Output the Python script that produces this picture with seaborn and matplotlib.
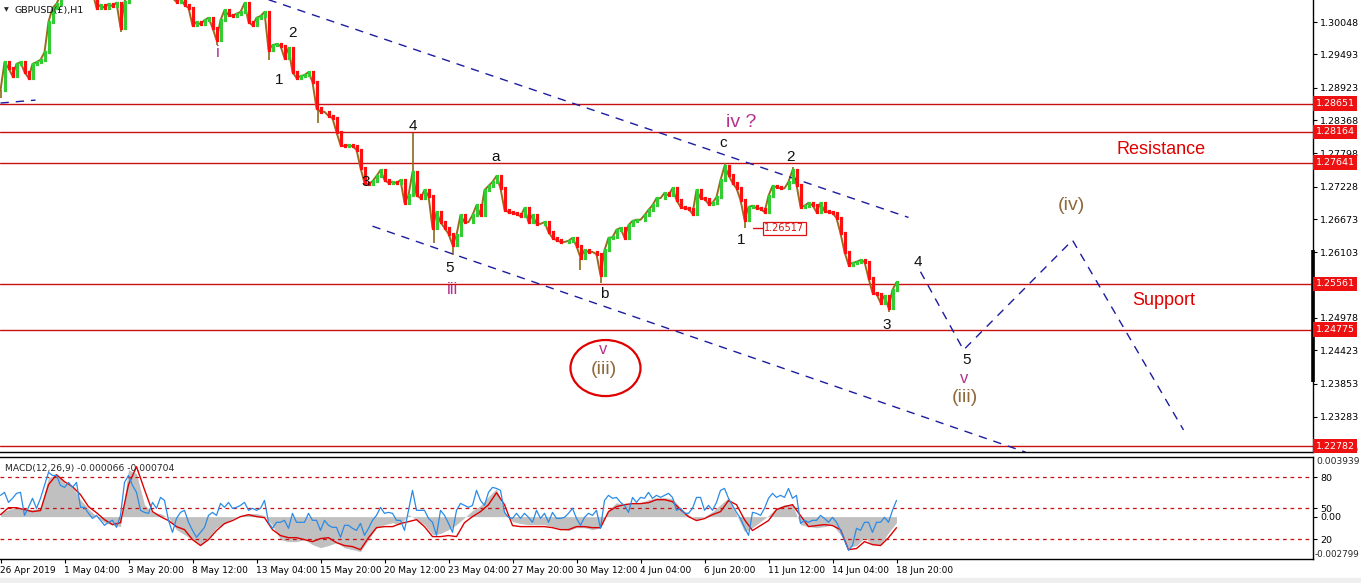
import numpy as np
import matplotlib
matplotlib.use("Agg")
import matplotlib.pyplot as plt
import matplotlib.transforms as mtransforms
from matplotlib.patches import Ellipse, Rectangle
import seaborn as sns

sns.set_theme(style="white")
plt.rcParams["font.family"] = ["DejaVu Sans"]

# ---------------- data ----------------
BAR_STEP = 4  # hourly bars between samples of the close series
close = [
    1.2888, 1.2936, 1.2926, 1.2912, 1.2933, 1.2936, 1.2919, 1.2909, 1.2933, 1.2936,
    1.2940, 1.2953, 1.3005, 1.3029, 1.3036, 1.3051, 1.3060, 1.3068, 1.3077, 1.3068,
    1.3077, 1.3085, 1.3068, 1.3056, 1.3029, 1.3034, 1.3029, 1.3036, 1.3032, 1.3038,
    1.2995, 1.3039, 1.3060, 1.3077, 1.3085, 1.3094, 1.3085, 1.3094, 1.3085, 1.3077,
    1.3085, 1.3068, 1.3056, 1.3046, 1.3039, 1.3046, 1.3034, 1.3029, 1.2999, 1.3005,
    1.3001, 1.3008, 1.3012, 1.2995, 1.2974, 1.3008, 1.3025, 1.3017, 1.3015, 1.3019,
    1.3022, 1.3037, 1.3005, 1.2999, 1.3012, 1.3015, 1.3022, 1.2957, 1.2965, 1.2967,
    1.2964, 1.2943, 1.2960, 1.2919, 1.2909, 1.2912, 1.2914, 1.2919, 1.2902, 1.2857,
    1.2851, 1.2851, 1.2844, 1.2840, 1.2816, 1.2794, 1.2792, 1.2794, 1.2792, 1.2786,
    1.2755, 1.2729, 1.2727, 1.2732, 1.2741, 1.2751, 1.2734, 1.2729, 1.2731, 1.2729,
    1.2734, 1.2695, 1.2708, 1.2748, 1.2708, 1.2703, 1.2717, 1.2707, 1.2652, 1.2679,
    1.2662, 1.2652, 1.2642, 1.2623, 1.2640, 1.2674, 1.2662, 1.2662, 1.2674, 1.2691,
    1.2674, 1.2717, 1.2724, 1.2731, 1.2741, 1.2720, 1.2683, 1.2679, 1.2678, 1.2676,
    1.2672, 1.2686, 1.2662, 1.2674, 1.2659, 1.2659, 1.2662, 1.2645, 1.2635, 1.2631,
    1.2628, 1.2628, 1.2630, 1.2635, 1.2621, 1.2601, 1.2614, 1.2611, 1.2611, 1.2607,
    1.2571, 1.2614, 1.2635, 1.2636, 1.2649, 1.2652, 1.2635, 1.2657, 1.2664, 1.2666,
    1.2666, 1.2674, 1.2683, 1.2691, 1.2703, 1.2703, 1.2712, 1.2708, 1.2720, 1.2700,
    1.2688, 1.2686, 1.2685, 1.2676, 1.2717, 1.2703, 1.2702, 1.2693, 1.2695, 1.2705,
    1.2734, 1.2758, 1.2743, 1.2729, 1.2720, 1.2700, 1.2666, 1.2688, 1.2690, 1.2686,
    1.2685, 1.2679, 1.2707, 1.2724, 1.2722, 1.2720, 1.2720, 1.2731, 1.2751, 1.2726,
    1.2688, 1.2690, 1.2695, 1.2691, 1.2679, 1.2695, 1.2681, 1.2679, 1.2678, 1.2669,
    1.2643, 1.2611, 1.2589, 1.2592, 1.2594, 1.2597, 1.2594, 1.2566, 1.2541, 1.2539,
    1.2524, 1.2536, 1.2515, 1.2546, 1.2559,
]
# notable wick extremes (bar index, price)
wick_bar = [0, 120, 216, 268, 317, 412, 433, 452, 579, 600, 724, 744, 792, 888]
wick_price = [1.2875, 1.2988, 1.2965, 1.2940, 1.2832, 1.2815, 1.2626, 1.2606,
              1.2580, 1.2558, 1.2763, 1.2652, 1.2756, 1.2508]

MACD_STEP = 8
macd_hist = [
    0.00026, 0.00046, 0.00059, 0.00053, 0.00046, 0.00059, 0.00257, 0.00277, 0.00224, 0.00198,
    0.00112, 0.00053, 0.0, -0.0004, -0.00053, -0.00066, 0.0031, 0.00284, 0.00079, 0.00026,
    0.0002, -0.00007, -0.00086, -0.00119, -0.00152, -0.00185, -0.00139, -0.00073, -0.00046, -0.00013,
    0.00007, 0.0002, 0.0002, 0.00007, -0.00059, -0.00152, -0.00165, -0.00165, -0.00152, -0.00185,
    -0.00205, -0.00191, -0.00172, -0.00205, -0.00218, -0.00231, -0.00152, -0.00073, -0.00053, -0.0004,
    -0.00053, 0.00013, -0.0002, -0.00053, -0.00119, -0.00112, -0.00086, -0.00053, -0.00007, 0.0004,
    0.00073, 0.00132, 0.00185, 0.00033, -0.00033, -0.00046, -0.00053, -0.00053, -0.00053, -0.00066,
    -0.00079, -0.00092, -0.00073, -0.00073, -0.00086, -0.00073, 0.00046, 0.00092, 0.00079, 0.00092,
    0.00092, 0.00112, 0.00125, 0.00125, 0.00119, 0.00059, 0.00013, -0.0002, 0.0, 0.00033,
    0.00079, 0.00125, 0.00013, -0.00099, -0.00073, -0.00033, 0.00007, 0.00059, 0.00079, 0.00079,
    -0.00053, -0.00066, -0.00073, -0.00066, -0.00053, -0.00119, -0.00205, -0.00191, -0.00139, -0.00185,
    -0.00185, -0.00106, -0.0004,
]
macd_signal = [
    0.00013, 0.00059, 0.00059, 0.00046, 0.00033, 0.0004, 0.00211, 0.00277, 0.00231, 0.00198,
    0.00145, 0.00066, 0.00026, -0.0002, -0.00053, -0.0004, 0.00211, 0.0033, 0.00178, 0.00033,
    0.0, -0.00026, -0.00066, -0.00086, -0.00152, -0.00191, -0.00152, -0.00092, -0.00046, -0.00026,
    0.0, 0.00013, 0.0, -0.00007, -0.00086, -0.00125, -0.00139, -0.00139, -0.00152, -0.00165,
    -0.00145, -0.00139, -0.00172, -0.00191, -0.00198, -0.00218, -0.00139, -0.00073, -0.00066, -0.00066,
    -0.00046, -0.00033, -0.0002, -0.00066, -0.00132, -0.00132, -0.00125, -0.00132, -0.0004, 0.0,
    0.00033, 0.00079, 0.00158, 0.00079, -0.00059, -0.00066, -0.00066, -0.00066, -0.00066, -0.00073,
    -0.00086, -0.00086, -0.00066, -0.00066, -0.00073, -0.00073, 0.00033, 0.00066, 0.00079, 0.00086,
    0.00086, 0.00092, 0.00112, 0.00112, 0.00099, 0.00046, 0.0, -0.00026, -0.00013, 0.00013,
    0.00033, 0.00106, 0.00079, -0.0002, -0.00092, -0.00059, -0.00026, 0.00046, 0.00066, 0.00079,
    0.00007, -0.00066, -0.00059, -0.00053, -0.00059, -0.00086, -0.00218, -0.00211, -0.00165, -0.00185,
    -0.00191, -0.00139, -0.00073,
]
OSC_STEP = 4
osc = [
    62.6, 65.5, 55.8, 59.7, 64.5, 65.5, 43.2, 51.0, 59.7, 50.0,
    59.7, 72.2, 84.8, 81.9, 81.9, 72.2, 70.3, 75.1, 70.3, 75.1,
    51.0, 51.0, 45.2, 40.3, 43.2, 38.4, 33.6, 36.5, 38.4, 31.6,
    43.2, 75.1, 81.9, 72.2, 65.5, 48.1, 46.1, 45.2, 55.8, 50.0,
    60.6, 57.7, 38.4, 26.8, 40.3, 46.1, 48.1, 36.5, 28.7, 22.0,
    26.8, 31.6, 43.2, 46.1, 43.2, 54.8, 51.0, 55.8, 50.0, 51.0,
    52.9, 55.8, 48.1, 50.0, 48.1, 50.0, 57.7, 36.5, 30.7, 36.5,
    36.5, 38.4, 30.7, 45.2, 36.5, 36.5, 36.5, 45.2, 38.4, 38.4,
    28.7, 38.4, 33.6, 31.6, 31.6, 22.0, 33.6, 33.6, 30.7, 28.7,
    35.5, 23.9, 30.7, 38.4, 43.2, 51.0, 45.2, 46.1, 45.2, 38.4,
    38.4, 28.7, 48.1, 67.4, 48.1, 48.1, 48.1, 40.3, 36.5, 23.9,
    48.1, 43.2, 35.5, 26.8, 48.1, 54.8, 52.9, 51.0, 52.9, 67.4,
    57.7, 52.9, 65.5, 70.3, 69.3, 67.4, 46.1, 41.3, 40.3, 45.2,
    40.3, 45.2, 41.3, 36.5, 48.1, 40.3, 45.2, 36.5, 46.1, 40.3,
    40.3, 41.3, 45.2, 50.0, 40.3, 33.6, 41.3, 45.2, 43.2, 48.1,
    30.7, 57.7, 62.6, 59.7, 60.6, 55.8, 52.9, 46.1, 60.6, 55.8,
    60.6, 59.7, 65.5, 59.7, 62.6, 60.6, 62.6, 64.5, 60.6, 48.1,
    50.0, 45.2, 45.2, 50.0, 60.6, 60.6, 48.1, 52.9, 48.1, 55.8,
    67.4, 69.3, 59.7, 52.9, 46.1, 40.3, 31.6, 23.9, 46.1, 45.2,
    43.2, 50.0, 59.7, 64.5, 60.6, 62.6, 60.6, 69.3, 59.7, 62.6,
    35.5, 38.4, 36.5, 38.4, 38.4, 43.2, 40.3, 36.5, 41.3, 36.5,
    28.7, 19.0, 9.4, 14.2, 30.7, 28.7, 36.5, 36.5, 26.8, 36.5,
    36.5, 41.3, 36.5, 48.1, 57.7,
]
osc_levels = [80, 50, 20]

levels = [1.28651, 1.28164, 1.27641, 1.25561, 1.24775, 1.22782]
price_ticks = [1.30048, 1.29493, 1.28923, 1.28368, 1.27798, 1.27228, 1.26673,
               1.26103, 1.24978, 1.24423, 1.23853, 1.23283, 1.22720]
date_bars = [0, 64, 128, 192, 256, 320, 384, 448, 512, 576, 640, 704, 768, 832, 896]
date_labels = ["26 Apr 2019", "1 May 04:00", "3 May 20:00", "8 May 12:00", "13 May 04:00",
               "15 May 20:00", "20 May 12:00", "23 May 04:00", "27 May 20:00", "30 May 12:00",
               "4 Jun 04:00", "6 Jun 20:00", "11 Jun 12:00", "14 Jun 04:00", "18 Jun 20:00"]

upper_tl_bars, upper_tl_price = [268, 908], [1.3043, 1.2670]
lower_tl_bars, lower_tl_price = [372, 1025], [1.2655, 1.2268]
left_tl_bars, left_tl_price = [0, 35], [1.2866, 1.2871]
proj_bars = [920, 963, 1072, 1183]
proj_price = [1.2577, 1.2443, 1.2631, 1.2306]

MAG, BRN, BLK, RED = "#b5338f", "#8f6a3c", "#111111", "#e00000"
wave_labels = [
    ("i", 217, 1.2953, MAG, 12), ("2", 292, 1.2986, BLK, 11), ("1", 279, 1.2905, BLK, 11),
    ("4", 412, 1.2827, BLK, 11), ("3", 365, 1.2731, BLK, 11), ("5", 449, 1.2584, BLK, 11),
    ("iii", 452, 1.2547, MAG, 12), ("a", 495, 1.2774, BLK, 11), ("b", 604, 1.2539, BLK, 11),
    ("c", 723, 1.2797, BLK, 11), ("iv ?", 741, 1.2832, MAG, 14), ("2", 790, 1.2774, BLK, 11),
    ("1", 741, 1.2631, BLK, 11), ("3", 886, 1.2486, BLK, 11), ("4", 917, 1.2594, BLK, 11),
    ("5", 966, 1.2426, BLK, 11), ("v", 964, 1.2394, MAG, 12), ("(iii)", 964, 1.2361, BRN, 14),
    ("(iv)", 1071, 1.2691, BRN, 14), ("v", 603, 1.2444, MAG, 12), ("(iii)", 603, 1.2409, BRN, 14),
    ("Resistance", 1161, 1.2787, RED, 13), ("Support", 1163, 1.2527, RED, 13),
]
marked_bar, marked_price = 744, 1.26517

# ---------------- figure ----------------
W, H = 1361, 583
fig = plt.figure(figsize=(W / 100, H / 100), dpi=100)
fig.patch.set_facecolor("white")
right = 1313 / W
ax_p = fig.add_axes([0, 1 - 452 / H, right, 452 / H])
ax_m = fig.add_axes([0, 1 - 559 / H, right, 102 / H])
XMAX = 1313
for ax in (ax_p, ax_m):
    ax.set_facecolor("white")
    ax.set_xlim(-0.5, XMAX - 0.5)
    ax.spines["left"].set_visible(False)
    for s in ("right", "bottom", "top"):
        ax.spines[s].set_color("black")
        ax.spines[s].set_linewidth(1.0)
ax_p.spines["top"].set_visible(False)

ax_p.set_ylim(1.22682, 1.30425)

# price bars
c = np.array(close)
xb = np.arange(len(c)) * BAR_STEP
prev = np.r_[c[0], c[:-1]]
up = c >= prev
sns.lineplot(x=xb, y=c, ax=ax_p, color="#9a6b1f", lw=1.4, zorder=2)
ax_p.vlines(xb[up], prev[up], c[up], colors="#33cc33", lw=2.3, zorder=3,
            capstyle="projecting")
ax_p.vlines(xb[~up], c[~up], prev[~up], colors="#ff1010", lw=2.3, zorder=3,
            capstyle="projecting")
idx = np.clip(np.round(np.array(wick_bar) / BAR_STEP).astype(int), 0, len(c) - 1)
ax_p.vlines(wick_bar, c[idx], wick_price, colors="#8a6a1a", lw=1.2, zorder=2)

# horizontal levels
blend_p = mtransforms.blended_transform_factory(ax_p.transAxes, ax_p.transData)
for lv in levels:
    ax_p.axhline(lv, color="#c81010", lw=1.0, zorder=1)
    ax_p.text(1.002, lv, f"{lv:.5f}", transform=blend_p, color="white", fontsize=6.8,
              va="center", ha="left", clip_on=False, zorder=10,
              bbox=dict(boxstyle="square,pad=0.3", fc="#ee1111", ec="none"))

# trend / projection lines
dash = dict(color="#1c1ca0", lw=1.0, ls=(0, (6, 5)))
sns.lineplot(x=upper_tl_bars, y=upper_tl_price, ax=ax_p, **dash)
sns.lineplot(x=lower_tl_bars, y=lower_tl_price, ax=ax_p, **dash)
sns.lineplot(x=left_tl_bars, y=left_tl_price, ax=ax_p, **dash)
ax_p.plot(proj_bars, proj_price, **dash)

# wave labels
for txt, bx, py, col, fs in wave_labels:
    ax_p.text(bx, py, txt, color=col, fontsize=fs, ha="center", va="center",
              family="Liberation Sans", zorder=6)
ax_p.add_patch(Ellipse((605, 1.2412), width=70, height=0.0096, fill=False,
                       ec=RED, lw=1.6, zorder=5))
ax_p.plot([marked_bar + 8, marked_bar + 18], [marked_price, marked_price], color="#dd1111", lw=1.0)
ax_p.text(marked_bar + 40, marked_price, f"{marked_price:.5f}", color="#dd1111", fontsize=7,
          ha="center", va="center",
          bbox=dict(boxstyle="square,pad=0.15", fc="white", ec="#dd1111", lw=0.9))

# title
ax_p.text(0.003, 0.985, "\u25bc", transform=ax_p.transAxes, fontsize=4.5, va="top", ha="left")
ax_p.text(0.011, 0.987, "GBPUSD(£),H1", transform=ax_p.transAxes, fontsize=6.8,
          va="top", ha="left", color="#111111")

# right axis ticks
ax_p.yaxis.tick_right()
ax_p.set_yticks(price_ticks)
ax_p.set_yticklabels([f"{t:.5f}" for t in price_ticks])
ax_p.tick_params(axis="y", length=3, width=0.8, color="black", labelsize=6.8, pad=2,
                 labelcolor="black", right=True)
ax_p.set_xticks([])
ax_p.plot([1.0, 1.0], [1.2614, 1.2388], transform=blend_p, color="black", lw=2.6,
          clip_on=False, zorder=9, solid_capstyle="butt")
ax_p.grid(False)

# ---------------- MACD panel ----------------
ax_m.set_ylim(-0.002799, 0.003939)
xm = np.arange(len(macd_hist)) * MACD_STEP
ax_m.fill_between(xm, 0, macd_hist, color="#c0c0c0", lw=0, zorder=1)
sns.lineplot(x=xm, y=macd_signal, ax=ax_m, color="#dd0000", lw=1.0, zorder=3)
ax_o = ax_m.twinx()
ax_o.set_xlim(-0.5, XMAX - 0.5)
ax_o.set_ylim(1.0, 99.7)
for s in ax_o.spines.values():
    s.set_visible(False)
xo = np.arange(len(osc)) * OSC_STEP
sns.lineplot(x=xo, y=osc, ax=ax_o, color="#2a8be6", lw=0.9, zorder=4)
for lv in osc_levels:
    ax_o.axhline(lv, color="#c81010", lw=0.9, ls=(0, (3, 3)), zorder=2)
ax_o.set_yticks(osc_levels)
ax_o.set_yticklabels([str(v) for v in osc_levels])
ax_o.tick_params(axis="y", length=3, width=0.8, labelsize=6.8, pad=2, right=True, colors="black")
ax_o.grid(False)

ax_m.yaxis.tick_right()
ax_m.set_yticks([0.0])
ax_m.set_yticklabels(["0.00"])
ax_m.tick_params(axis="y", length=3, width=0.8, labelsize=6.8, pad=2, right=True, colors="black")
blend_m = mtransforms.blended_transform_factory(ax_m.transAxes, ax_m.transData)
ax_m.text(1.0025, 0.003939, "0.003939", transform=blend_m, fontsize=6.6, va="top", ha="left")
ax_m.text(1.0012, -0.002799, "-0.002799", transform=blend_m, fontsize=6.3, va="bottom", ha="left")
ax_m.text(0.004, 0.93, "MACD(12,26,9) -0.000066 -0.000704", transform=ax_m.transAxes,
          fontsize=6.6, va="top", ha="left", zorder=6)
ax_m.set_xticks(date_bars)
ax_m.set_xticklabels(date_labels, ha="left", fontsize=6.5)
ax_m.tick_params(axis="x", length=3, width=0.8, pad=2, bottom=True, colors="black")
ax_m.grid(False)

fig.patches.append(Rectangle((0, 0), 1, 5 / H, transform=fig.transFigure,
                             color="#efefef", zorder=0))

fig.savefig("out.png", dpi=100)
